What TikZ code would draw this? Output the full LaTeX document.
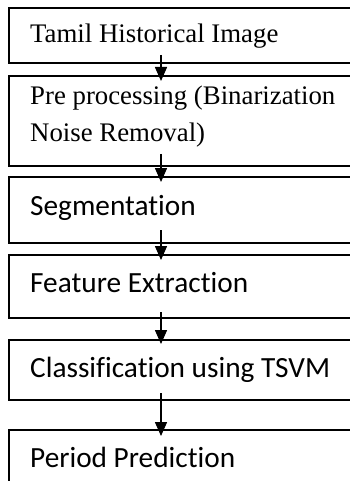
\documentclass[tikz,border=0pt]{standalone}
\usepackage{fontspec}
\setmainfont{Liberation Serif}
\newfontfamily\calib[Ligatures=NoCommon]{Carlito}
\usetikzlibrary{arrows.meta}
\begin{document}
\begin{tikzpicture}[x=1pt,y=-1pt,
  boxnode/.style={draw, line width=1.5pt, anchor=north west, minimum width=355pt, inner sep=0pt, outer sep=0pt},
  serif/.style={anchor=base west, inner sep=0pt, font=\fontsize{26.8pt}{37pt}\selectfont, align=left},
  sans/.style={anchor=base west, inner sep=0pt, font=\calib\fontsize{29.3pt}{34pt}\selectfont},
  arr/.style={line width=1.5pt, -{Triangle[length=14pt,width=12pt]}}]
\useasboundingbox (0,0) rectangle (350,481);
\clip (0,0) rectangle (350,481);
\node[boxnode, minimum height=55pt] (b1) at (9,8) {};
\node[boxnode, minimum height=90pt] (b2) at (9,76) {};
\node[boxnode, minimum height=66pt] (b3) at (9,177) {};
\node[boxnode, minimum height=63pt] (b4) at (9,255) {};
\node[boxnode, minimum height=60pt] (b5) at (9,340) {};
\node[boxnode, minimum height=70pt] (b6) at (9,430) {};
\node[serif] (t1) at (30,43) {Tamil Historical Image};
\node[serif, anchor=north west] (t2) at (30,86) {Pre processing (Binarization\\Noise Removal)};
\node[sans] (t3) at (30,215) {Segmentation};
\node[sans] (t4) at (30,292) {Feature Extraction};
\node[sans] (t5) at (30,377) {Classification using TSVM};
\node[sans] (t6) at (30,467) {Period Prediction};
\coordinate (ax) at (161,0);
\draw[arr] ([yshift=8pt]b1.south -| ax) -- ([yshift=-5pt]b2.north -| ax);
\draw[arr] ([yshift=12pt]b2.south -| ax) -- ([yshift=-5pt]b3.north -| ax);
\draw[arr] ([yshift=13pt]b3.south -| ax) -- ([yshift=-5pt]b4.north -| ax);
\draw[arr] ([yshift=6pt]b4.south -| ax) -- ([yshift=-4pt]b5.north -| ax);
\draw[arr] ([yshift=7pt]b5.south -| ax) -- ([yshift=-6pt]b6.north -| ax);
\end{tikzpicture}
\end{document}
